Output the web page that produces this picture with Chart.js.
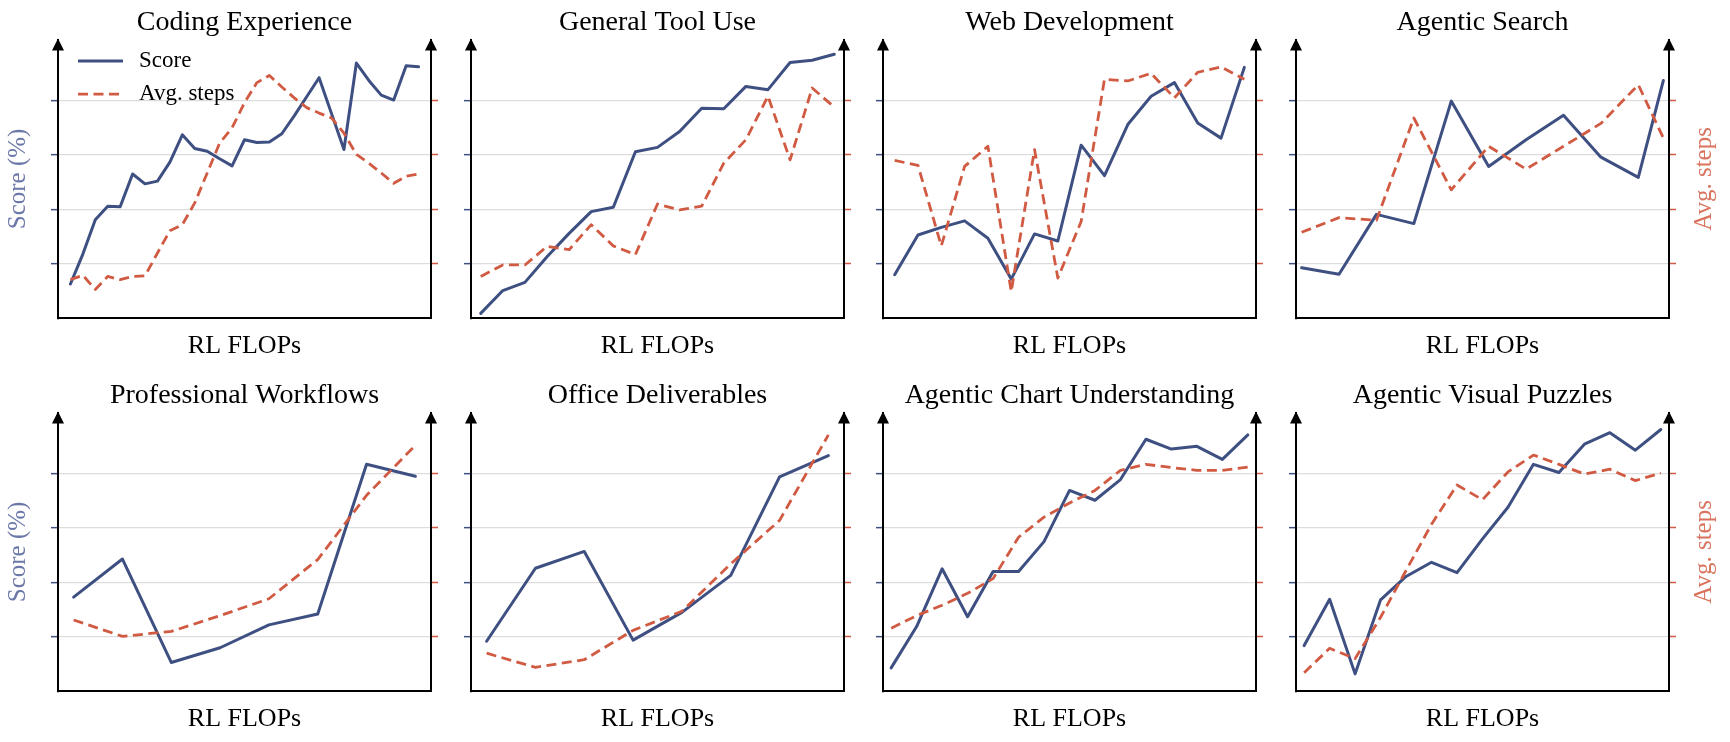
<!DOCTYPE html>
<html>
<head>
<meta charset="utf-8">
<title>Score and avg. steps vs RL FLOPs</title>
<script src="https://cdn.jsdelivr.net/npm/chart.js@4.4.1/dist/chart.umd.min.js"></script>
<style>
  body { margin: 0; background: #fff; }
  #wrap { position: relative; width: 1730px; height: 742px; overflow: hidden; }
  #wrap canvas { position: absolute; }
</style>
</head>
<body>
<div id="wrap"></div>
<script>
// Values in grid units (gridlines at 1..4, no tick labels shown)
const titles = ["Coding Experience", "General Tool Use", "Web Development", "Agentic Search",
  "Professional Workflows", "Office Deliverables", "Agentic Chart Understanding", "Agentic Visual Puzzles"];
const gridTicks = [1, 2, 3, 4];

const codingScore = [0.63, 1.18, 1.81, 2.06, 2.05, 2.65, 2.47, 2.52, 2.87, 3.37, 3.12, 3.07, 2.93, 2.80, 3.28,
  3.23, 3.24, 3.39, 3.72, 4.07, 4.42, 3.76, 3.10, 4.69, 4.37, 4.10, 4.01, 4.64, 4.62];
const codingSteps = [0.71, 0.79, 0.53, 0.77, 0.71, 0.77, 0.78, 1.20, 1.61, 1.72, 2.12, 2.67, 3.22, 3.50, 3.96,
  4.33, 4.46, 4.25, 4.05, 3.87, 3.77, 3.68, 3.40, 3.01, 2.85, 2.67, 2.48, 2.61, 2.65];

const toolScore = [0.09, 0.51, 0.66, 1.13, 1.56, 1.96, 2.04, 3.06, 3.14, 3.43, 3.86, 3.85, 4.26, 4.20, 4.70, 4.74, 4.85];
const toolSteps = [0.77, 0.98, 0.98, 1.32, 1.26, 1.72, 1.33, 1.17, 2.10, 1.99, 2.06, 2.85, 3.28, 4.08, 2.91, 4.23, 3.88];

const webScore = [0.80, 1.53, 1.67, 1.79, 1.47, 0.72, 1.55, 1.42, 3.18, 2.62, 3.56, 4.08, 4.33, 3.59, 3.31, 4.61];
const webSteps = [2.90, 2.81, 1.33, 2.79, 3.16, 0.49, 3.10, 0.74, 1.78, 4.39, 4.36, 4.50, 4.05, 4.52, 4.62, 4.39];

const searchX = [0, 1, 2, 3, 4, 5, 6, 7, 8, 9, 9.67];
const searchScore = [0.93, 0.81, 1.91, 1.74, 3.99, 2.79, 3.28, 3.73, 2.96, 2.59, 4.37];
const searchSteps = [1.58, 1.85, 1.80, 3.68, 2.36, 3.16, 2.74, 3.16, 3.58, 4.29, 3.31];

const profScore = [1.73, 2.43, 0.53, 0.80, 1.22, 1.42, 4.17, 3.95];
const profSteps = [1.31, 1.01, 1.10, 1.39, 1.70, 2.42, 3.60, 4.52];

const officeScore = [0.92, 2.26, 2.57, 0.94, 1.45, 2.13, 3.94, 4.33];
const officeSteps = [0.70, 0.44, 0.58, 1.12, 1.47, 2.34, 3.14, 4.71];

const chartScore = [0.43, 1.19, 2.25, 1.37, 2.20, 2.20, 2.75, 3.69, 3.51, 3.89, 4.63, 4.45, 4.50, 4.26, 4.71];
const chartSteps = [1.16, 1.39, 1.58, 1.80, 2.07, 2.83, 3.20, 3.46, 3.69, 4.06, 4.17, 4.11, 4.06, 4.06, 4.12];

const puzzleScore = [0.84, 1.69, 0.32, 1.68, 2.11, 2.37, 2.18, 2.80, 3.38, 4.17, 4.02, 4.54, 4.75, 4.43, 4.81];
const puzzleSteps = [0.34, 0.79, 0.60, 1.36, 2.22, 3.07, 3.79, 3.52, 4.03, 4.34, 4.17, 3.99, 4.08, 3.87, 4.01];

// x limits (in checkpoint units) for each panel
const xLimits = [[-1.0, 29.0], [-0.44, 16.44], [-0.5, 15.5], [-0.15, 9.82],
  [-0.32, 7.32], [-0.32, 7.32], [-0.32, 14.32], [-0.32, 14.32]];

const BLUE = "#3e4f82";
const RED = "#d15a42";
const FONT = "'Liberation Serif', 'Times New Roman', serif";

const idx = arr => arr.map((_, i) => i);
const series = [
  [idx(codingScore), codingScore, codingSteps],
  [idx(toolScore), toolScore, toolSteps],
  [idx(webScore), webScore, webSteps],
  [searchX, searchScore, searchSteps],
  [idx(profScore), profScore, profSteps],
  [idx(officeScore), officeScore, officeSteps],
  [idx(chartScore), chartScore, chartSteps],
  [idx(puzzleScore), puzzleScore, puzzleSteps]
];

// arrows on the axes, in-plot legend, right axis label
const axisDecor = {
  id: "axisDecor",
  afterDraw(chart, args, opts) {
    const { ctx, chartArea: a } = chart;
    ctx.save();
    ctx.fillStyle = "#000";
    [a.left, a.right].forEach(x => {
      ctx.beginPath();
      ctx.moveTo(x, a.top - 1);
      ctx.lineTo(x - 6, a.top + 11);
      ctx.lineTo(x + 6, a.top + 11);
      ctx.closePath();
      ctx.fill();
    });
    if (opts.rightLabel) {
      ctx.save();
      ctx.translate(a.right + 35, (a.top + a.bottom) / 2);
      ctx.rotate(-Math.PI / 2);
      ctx.font = "25px " + FONT;
      ctx.fillStyle = "#d9735d";
      ctx.textAlign = "center";
      ctx.textBaseline = "middle";
      ctx.fillText(opts.rightLabel, 0, 0);
      ctx.restore();
    }
    if (opts.legend) {
      const ds = chart.data.datasets;
      [ds[1], ds[0]].forEach((d, i) => {
        const y = a.top + 21.5 + i * 33;
        ctx.beginPath();
        ctx.setLineDash(d.borderDash || []);
        ctx.strokeStyle = d.borderColor;
        ctx.lineWidth = d.borderWidth;
        ctx.moveTo(a.left + 20, y);
        ctx.lineTo(a.left + 65, y);
        ctx.stroke();
        ctx.setLineDash([]);
        ctx.font = "23px " + FONT;
        ctx.fillStyle = "#000";
        ctx.textBaseline = "middle";
        ctx.fillText(d.label, a.left + 81, y);
      });
    }
    ctx.restore();
  }
};

const wrap = document.getElementById("wrap");
const colStep = 412.67, rowStep = 373;

series.forEach(([xs, score, steps], i) => {
  const col = i % 4, row = Math.floor(i / 4);
  const cv = document.createElement("canvas");
  cv.width = 489;
  cv.height = 362;
  cv.style.left = (col * colStep) + "px";
  cv.style.top = (row * rowStep) + "px";
  wrap.appendChild(cv);

  const yCommon = {
    min: 0, max: 5.12,
    afterBuildTicks: s => { s.ticks = gridTicks.map(v => ({ value: v })); },
    afterFit: s => { s.width = 58; },
    ticks: { display: false },
    border: { display: true, color: "#000", width: 2 }
  };

  new Chart(cv, {
    type: "line",
    data: {
      datasets: [
        {
          label: "Avg. steps", yAxisID: "y1", order: 0,
          data: xs.map((x, k) => ({ x, y: steps[k] })),
          borderColor: RED, borderWidth: 2.8, borderDash: [10, 5.5],
          pointRadius: 0, tension: 0, borderJoinStyle: "round"
        },
        {
          label: "Score", yAxisID: "y", order: 1,
          data: xs.map((x, k) => ({ x, y: score[k] })),
          borderColor: BLUE, borderWidth: 3.0,
          pointRadius: 0, tension: 0, borderJoinStyle: "round", borderCapStyle: "round"
        }
      ]
    },
    options: {
      responsive: false,
      animation: false,
      events: [],
      layout: { padding: 0 },
      scales: {
        x: {
          type: "linear", min: xLimits[i][0], max: xLimits[i][1],
          afterBuildTicks: s => { s.ticks = []; },
          afterFit: s => { s.height = 43.7; },
          grid: { display: false, drawTicks: false },
          ticks: { display: false },
          border: { display: true, color: "#000", width: 2 },
          title: { display: true, text: "RL FLOPs", color: "#000", font: { family: FONT, size: 26 }, padding: 0 }
        },
        y: Object.assign({}, yCommon, {
          position: "left",
          grid: { color: "#dddddd", lineWidth: 1.3, tickLength: 7, tickColor: BLUE, tickWidth: 1.5 },
          title: {
            display: col === 0, text: "Score (%)", color: "#6b78a8",
            font: { family: FONT, size: 25 }, padding: { top: 3, bottom: 0 }
          }
        }),
        y1: Object.assign({}, yCommon, {
          position: "right",
          grid: { drawOnChartArea: false, tickLength: 7, tickColor: RED, tickWidth: 1.5 }
        })
      },
      plugins: {
        legend: { display: false },
        tooltip: { enabled: false },
        title: {
          display: true, text: titles[i], color: "#000",
          font: { family: FONT, size: 28, weight: "normal" }, padding: { top: 6, bottom: 0 }
        },
        axisDecor: { legend: i === 0, rightLabel: col === 3 ? "Avg. steps" : null }
      }
    },
    plugins: [axisDecor]
  });
});
</script>
</body>
</html>
